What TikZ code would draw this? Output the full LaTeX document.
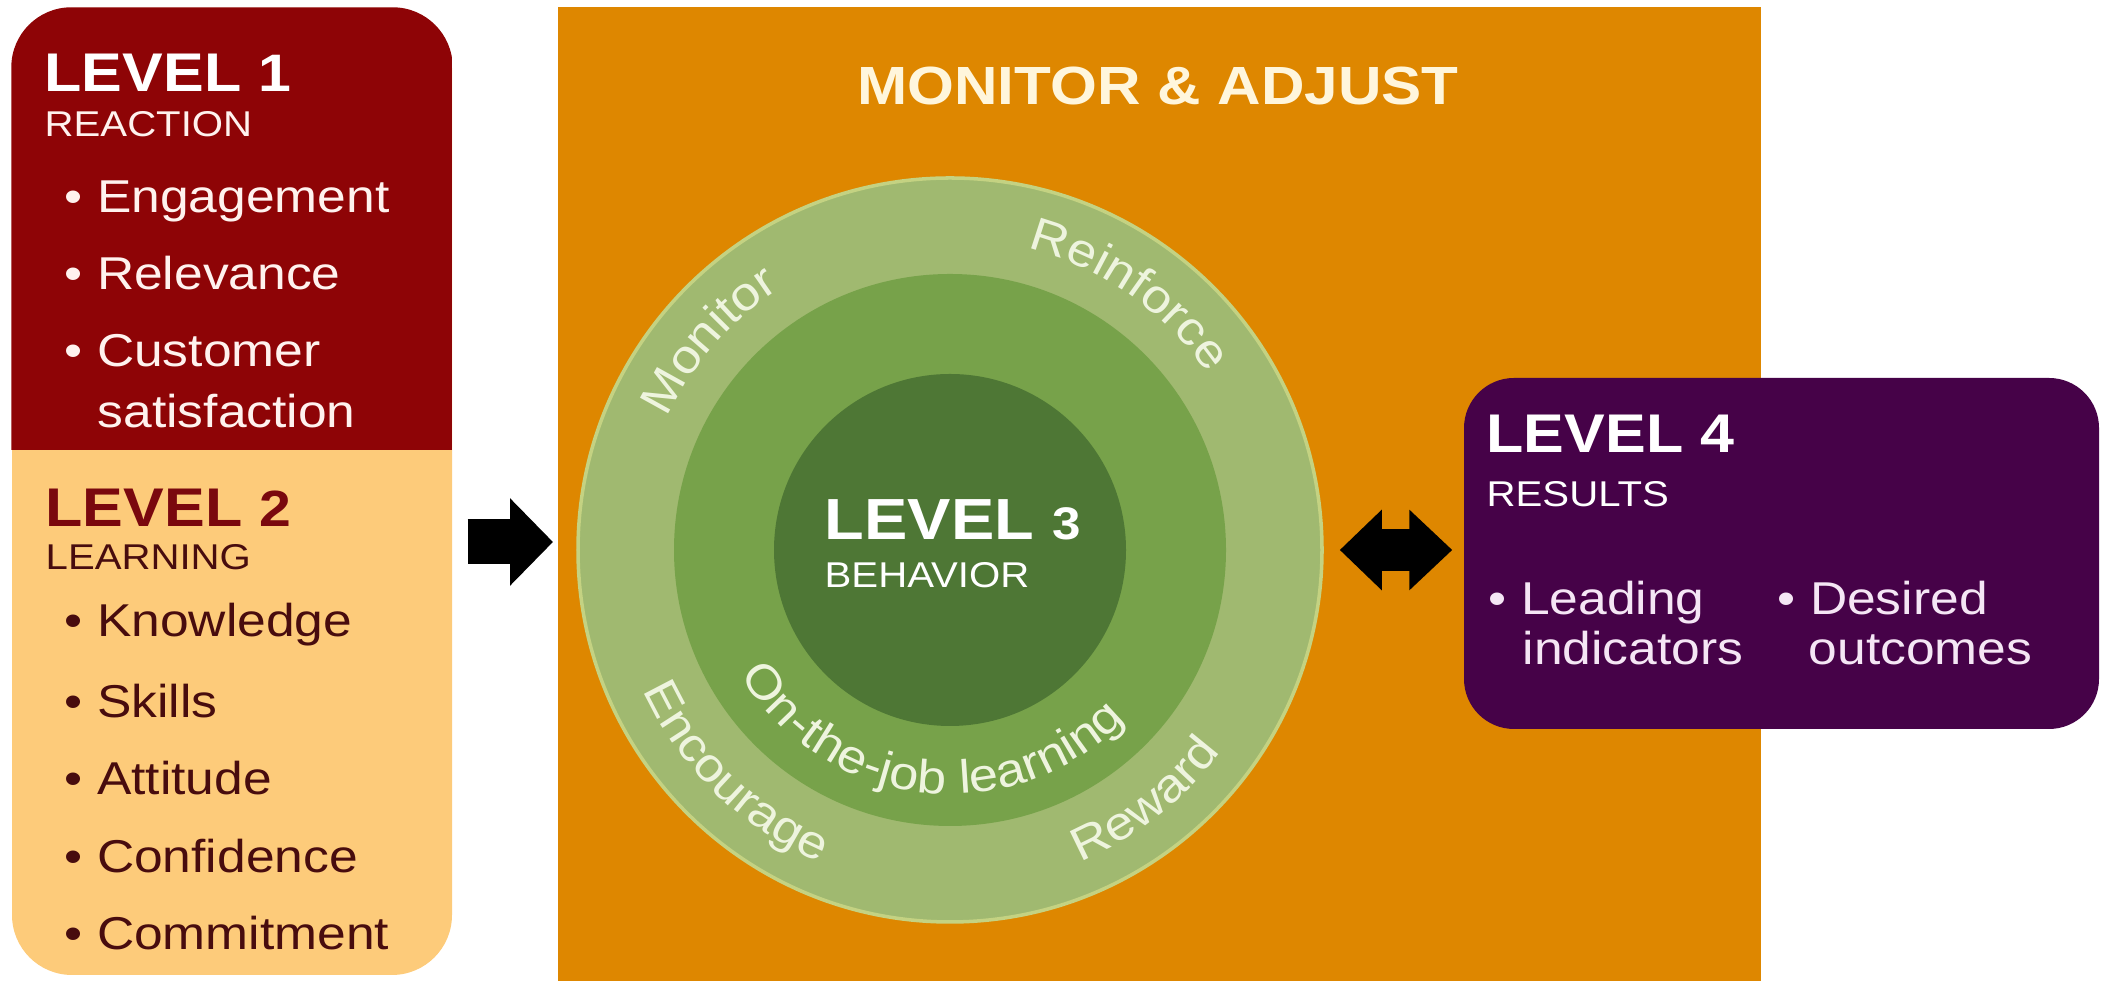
\documentclass[tikz,border=0pt]{standalone}
\usepackage{fontspec}
\setmainfont[FakeStretch=1.12]{Liberation Sans}
\usepackage{tikz}
\usetikzlibrary{arrows.meta, positioning, calc, decorations.text}

\definecolor{reactred}{RGB}{142,4,6}
\definecolor{learnbeige}{RGB}{253,203,122}
\definecolor{adjorange}{RGB}{222,135,0}
\definecolor{ringout}{RGB}{160,185,112}
\definecolor{ringedge}{RGB}{196,210,130}
\definecolor{ringmid}{RGB}{119,162,74}
\definecolor{ringin}{RGB}{78,119,53}
\definecolor{respurple}{RGB}{70,2,72}
\definecolor{darkmaroon}{RGB}{72,12,14}
\definecolor{lvltwored}{RGB}{122,8,14}
\definecolor{paletext}{RGB}{255,242,238}
\definecolor{palepink}{RGB}{245,230,245}
\definecolor{titlecream}{RGB}{255,246,220}
\definecolor{ringtext}{RGB}{238,244,222}

\newcommand{\lvl}[3][15.5]{{\fontsize{#1}{18}\selectfont\bfseries LEVEL {\fontsize{#3}{18}\selectfont #2}}}

\begin{document}
\begin{tikzpicture}[
    % text and shape styles
    txt/.style={inner sep=0pt, anchor=base west},
    item/.style={txt, font=\fontsize{13.1}{16}\selectfont},
    sub/.style={txt, font=\fontsize{10.2}{12}\selectfont},
    disc/.style={circle, inner sep=0pt},
    ringtxt/.style={decorate, decoration={text along path, text align=center,
        text={|\fontsize{13.3}{16}\selectfont\color{ringtext}|#1}}},
    blockarr/.style={line width=4.5mm, -{Triangle[length=4.3mm, width=8.5mm]}}
  ]
  \useasboundingbox (0,0) rectangle (21.04,9.82);

  % Level 3 panel
  \node[fill=adjorange, minimum width=12.03cm, minimum height=9.74cm, inner sep=0pt, anchor=south west] (adjust) at (5.57,0) {};
  \node[txt, anchor=base, font=\fontsize{15.3}{18}\selectfont\bfseries, text=titlecream] (adjtitle) at (11.58,8.77) {MONITOR \& ADJUST};
  \node[disc, fill=ringout, draw=ringedge, line width=1pt, minimum size=7.44cm] (ring) at (9.50,4.32) {};
  \node[disc, fill=ringmid, minimum size=5.52cm] (midring) at (ring.center) {};
  \node[disc, fill=ringin, minimum size=3.52cm] (core) at (ring.center) {};
  \path[ringtxt=Monitor] ($(ring.center)+(174:3.12)$) arc[start angle=174, end angle=104, radius=3.12];
  \path[ringtxt=Reinforce] ($(ring.center)+(90:3.12)$) arc[start angle=90, end angle=20, radius=3.12];
  \path[ringtxt=Encourage] ($(ring.center)+(191:3.38)$) arc[start angle=191, end angle=261, radius=3.38];
  \path[ringtxt=Reward] ($(ring.center)+(273:3.38)$) arc[start angle=273, end angle=343, radius=3.38];
  \path[ringtxt=On-the-job learning] ($(ring.center)+(190:2.44)$) arc[start angle=190, end angle=337, radius=2.44];
  \node[txt, text=white] (lvthree) at (8.24,4.42) {\lvl[16.5]{3}{13}};
  \node[sub, text=white, below=4.8mm of lvthree.base west, anchor=base west] (behav) {BEHAVIOR};

  % Level 4 box
  \node[fill=respurple, rounded corners=5mm, minimum width=6.35cm, minimum height=3.51cm, inner sep=0pt] (resbox) at (17.815,4.285) {};
  \node[txt, text=white] (lvfour) at (14.86,5.29) {\lvl{4}{15.5}};
  \node[sub, text=white, below=5.4mm of lvfour.base west, anchor=base west] (results) {RESULTS};
  \node[item, text=palepink] (lead) at (14.88,3.67) {• Leading};
  \node[item, text=palepink, below=5mm of lead.base west, xshift=3.4mm, anchor=base west] (indic) {indicators};
  \node[item, text=palepink] (desired) at (17.77,3.67) {• Desired};
  \node[item, text=palepink, below=5mm of desired.base west, xshift=3.1mm, anchor=base west] (outcm) {outcomes};

  % Level 1 and 2 box
  \node[fill=learnbeige, rounded corners=6mm, minimum width=4.40cm, minimum height=9.67cm, inner sep=0pt] (kbox) at (2.32,4.905) {};
  \begin{scope}
    \clip[rounded corners=6mm] (kbox.south west) rectangle (kbox.north east);
    \fill[reactred] (kbox.west |- 0,5.32) rectangle (kbox.north east);
  \end{scope}
  \node[txt, text=white] (lvone) at (0.44,8.90) {\lvl{1}{15}};
  \node[sub, text=paletext, below=4.5mm of lvone.base west, anchor=base west] (react) {REACTION};
  \node[item, text=paletext] (engage) at (0.64,7.69) {• Engagement};
  \node[item, text=paletext, below=7.7mm of engage.base west, anchor=base west] (relev) {• Relevance};
  \node[item, text=paletext, below=7.7mm of relev.base west, anchor=base west] (custom) {• Customer};
  \node[item, text=paletext, below=6.1mm of custom.base west, xshift=3.3mm, anchor=base west] (satis) {satisfaction};
  \node[txt, text=lvltwored] (lvtwo) at (0.45,4.55) {\lvl{2}{14.5}};
  \node[sub, text=darkmaroon, below=4.3mm of lvtwo.base west, anchor=base west] (learn) {LEARNING};
  \node[item, text=darkmaroon] (knowl) at (0.64,3.45) {• Knowledge};
  \node[item, text=darkmaroon, below=8.1mm of knowl.base west, anchor=base west] (skill) {• Skills};
  \node[item, text=darkmaroon, below=7.7mm of skill.base west, anchor=base west] (attit) {• Attitude};
  \node[item, text=darkmaroon, below=7.8mm of attit.base west, anchor=base west] (confi) {• Confidence};
  \node[item, text=darkmaroon, below=7.7mm of confi.base west, anchor=base west] (commit) {• Commitment};

  % Connections
  \draw[blockarr] ($(kbox.east |- 0,4.40)+(0.15,0)$) -- ($(adjust.west |- 0,4.40)+(-0.04,0)$);
  \draw[line width=4.2mm, {Triangle[length=4.2mm, width=7.8mm]}-{Triangle[length=4.3mm, width=7.8mm]}]
    ($(ring.east)+(0.16,0)$) -- ($(resbox.west |- ring.east)+(-0.11,0)$);
\end{tikzpicture}
\end{document}
